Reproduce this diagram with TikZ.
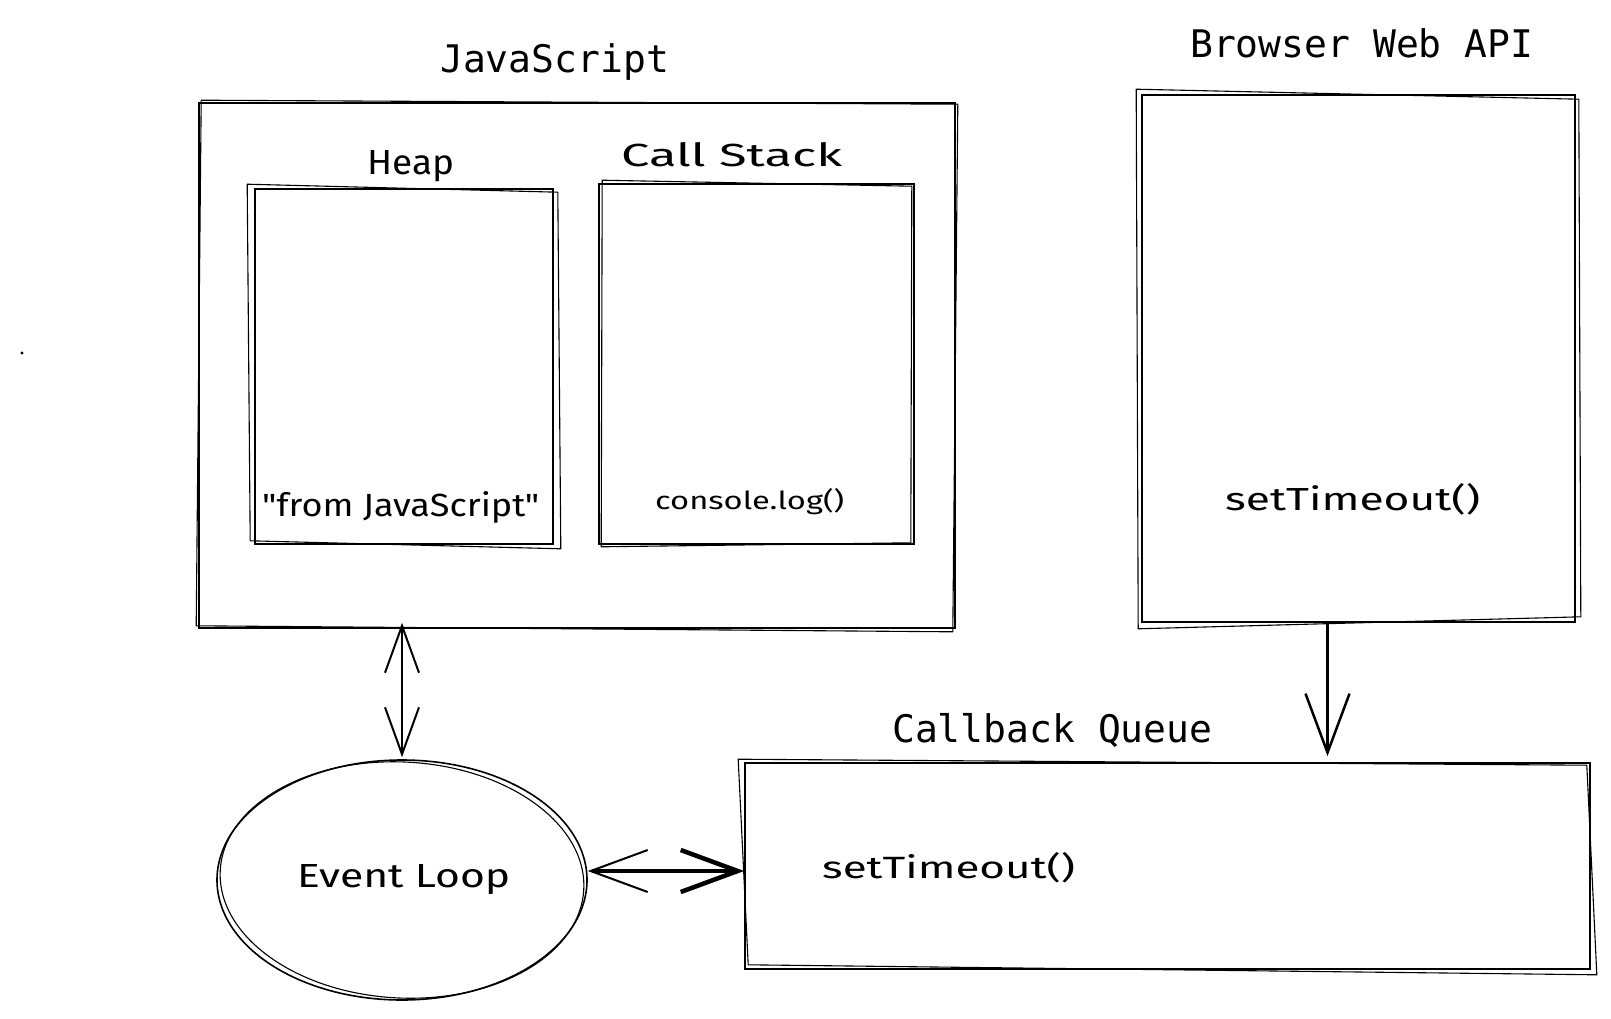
\documentclass[tikz,border=0pt]{standalone}
\usepackage{fontspec}
\usepackage{graphicx}
\newfontfamily\monof{DejaVu Sans Mono}
\newfontfamily\handf{Fira Sans}
\usetikzlibrary{arrows.meta,shapes.geometric}
\newcommand\skb[5]{\draw[sk] ([shift={(#2,#3)}]#1.north west) -- ([shift={(#4,-#3)}]#1.north east) -- ([shift={(-#2,#5)}]#1.south east) -- ([shift={(-#4,-#5)}]#1.south west) -- cycle;}
\newcommand\fitw[3]{\resizebox{#1pt}{#2pt}{#3}}
\tikzset{
  box/.style={draw, line width=1.6pt, rectangle, inner sep=0pt},
  sk/.style={line width=1.1pt, line join=round},
  mono/.style={font=\monof\fontsize{38}{40}\selectfont, inner sep=0pt, anchor=base west},
  hand/.style={font=\handf\fontsize{30}{32}\selectfont, inner sep=0pt, anchor=base west},
  arrV/.style={line width=2pt, line cap=round, {Straight Barb[length=47pt,width=34pt]}-{Straight Barb[length=47pt,width=34pt]}},
  arrH/.style={line width=4pt, {Straight Barb[length=57pt,width=42pt,line width=2pt]}-{Straight Barb[length=57pt,width=42pt,line width=4.5pt]}},
  arrD/.style={line width=2.5pt, -{Straight Barb[length=59pt,width=44pt]}}
}
\begin{document}
\begin{tikzpicture}[x=1pt,y=-1pt]
\useasboundingbox (0,0) rectangle (1611,1019);
% boxes
\node[box, minimum width=756pt, minimum height=525pt] (js) at (577,365.5) {};
\skb{js}{3}{-2}{2}{3}
\node[box, minimum width=298pt, minimum height=355pt] (heap) at (404,366.5) {};
\skb{heap}{-7}{-4}{4}{4}
\node[box, minimum width=315pt, minimum height=360pt] (stack) at (756.5,364) {};
\skb{stack}{4}{-3}{-3}{-2}
\node[box, minimum width=433pt, minimum height=527pt] (browser) at (1358.5,358.5) {};
\skb{browser}{-5}{-5}{3}{-6}
\node[box, minimum width=845pt, minimum height=206pt] (queue) at (1167.5,866) {};
\skb{queue}{-6}{-3}{-4}{5}
\node[draw, line width=1.6pt, ellipse, inner sep=0pt, minimum width=370pt, minimum height=240pt] (loop) at (402,880) {};
\draw[sk] (loop.center) ellipse [x radius=182pt, y radius=118pt, rotate=-3];
% titles
\node[mono] (tjs) at (440,73) {JavaScript};
\node[mono] (tbr) at (1190,58) {Browser Web API};
\node[mono] (tq) at (892,742) {Callback Queue};
% hand labels
\node[hand] (theap) at (367,175) {\fitw{87}{24}{Heap}};
\node[hand] (tstack) at (621,167) {\fitw{221}{24}{Call Stack}};
\node[hand] (tfrom) at (262,516) {\fitw{277}{25}{"from JavaScript"}};
\node[hand] (tcons) at (655,509) {\fitw{189}{21}{console.log()}};
\node[hand] (tbst) at (1225,510) {\fitw{255}{27}{setTimeout()}};
\node[hand] (tqst) at (822,878) {\fitw{253}{26}{setTimeout()}};
\node[hand] (tloop) at (297,887) {\fitw{213}{23}{Event Loop}};
% arrows
\draw[arrV] ([yshift=6pt]loop.north |- js.south) -- ([yshift=2pt]loop.north);
\draw[arrH] ([yshift=9pt]loop.east) -- ([yshift=9pt]loop.east -| queue.west);
\draw[arrD] ([xshift=-31pt]browser.south) -- ([xshift=-31pt,yshift=6pt]browser.south |- queue.north);
% stray dot
\fill (22,353) circle (1.6pt);
\end{tikzpicture}
\end{document}
